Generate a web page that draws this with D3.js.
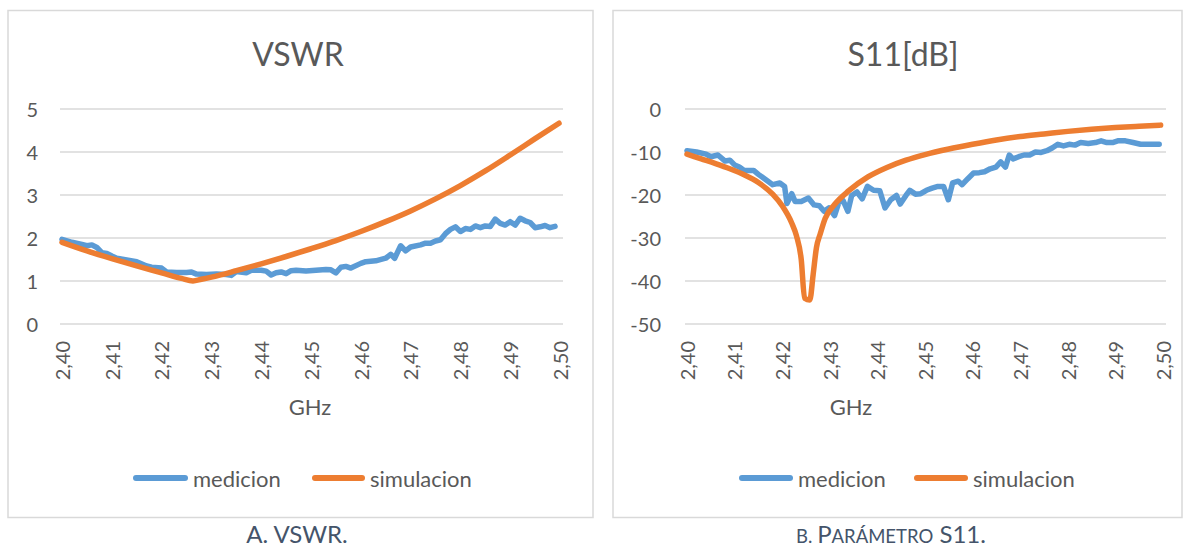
<!DOCTYPE html>
<html>
<head>
<meta charset="utf-8">
<script src="https://cdn.jsdelivr.net/npm/d3@7/dist/d3.min.js"></script>
<style>
  html, body { margin: 0; padding: 0; background: #ffffff; }
  svg { display: block; }
  text { font-family: Lato, "Open Sans", "Liberation Sans", sans-serif; }
</style>
</head>
<body>
<svg id="chart" width="1190" height="551"></svg>
<script>
// ---- data -------------------------------------------------------------
const freqTicks = [2.40, 2.41, 2.42, 2.43, 2.44, 2.45, 2.46, 2.47, 2.48, 2.49, 2.50];
const vswrTicks = [0, 1, 2, 3, 4, 5];
const s11Ticks = [0, -10, -20, -30, -40, -50];
const seriesNames = ["medicion", "simulacion"];

// VSWR, measured
const vswrMeasFreq = [2.400, 2.402, 2.404, 2.405, 2.406, 2.407, 2.408, 2.409, 2.410, 2.411, 2.413, 2.415,
  2.417, 2.418, 2.420, 2.421, 2.423, 2.425, 2.426, 2.427, 2.429, 2.431, 2.433, 2.434, 2.435, 2.437,
  2.438, 2.440, 2.441, 2.442, 2.443, 2.444, 2.445, 2.446, 2.447, 2.449, 2.451, 2.453, 2.454, 2.455,
  2.456, 2.457, 2.458, 2.460, 2.461, 2.463, 2.465, 2.466, 2.4668, 2.468, 2.469, 2.470, 2.472, 2.473,
  2.474, 2.475, 2.476, 2.477, 2.478, 2.479, 2.480, 2.481, 2.482, 2.483, 2.484, 2.485, 2.486, 2.487,
  2.488, 2.489, 2.490, 2.491, 2.492, 2.493, 2.494, 2.495, 2.496, 2.497, 2.498, 2.499];
const vswrMeas = [1.97, 1.90, 1.85, 1.82, 1.84, 1.78, 1.66, 1.64, 1.58, 1.53, 1.49, 1.45,
  1.35, 1.32, 1.30, 1.21, 1.20, 1.20, 1.21, 1.16, 1.15, 1.16, 1.15, 1.13, 1.22, 1.19,
  1.25, 1.25, 1.23, 1.14, 1.19, 1.21, 1.17, 1.24, 1.25, 1.23, 1.25, 1.27, 1.26, 1.19,
  1.32, 1.34, 1.30, 1.41, 1.45, 1.47, 1.53, 1.62, 1.53, 1.82, 1.70, 1.79, 1.84, 1.88,
  1.88, 1.93, 1.96, 2.10, 2.20, 2.26, 2.15, 2.22, 2.20, 2.28, 2.24, 2.28, 2.27, 2.44,
  2.34, 2.30, 2.38, 2.30, 2.46, 2.40, 2.36, 2.24, 2.26, 2.29, 2.24, 2.27];

// VSWR, simulated
const vswrSimFreq = [2.400, 2.405, 2.410, 2.415, 2.420, 2.424, 2.4263, 2.428, 2.430, 2.435, 2.440,
  2.445, 2.450, 2.455, 2.460, 2.465, 2.470, 2.475, 2.480, 2.485, 2.490, 2.495, 2.4998];
const vswrSim = [1.90, 1.70, 1.52, 1.35, 1.19, 1.06, 1.00, 1.04, 1.09, 1.24, 1.40,
  1.57, 1.75, 1.94, 2.15, 2.38, 2.63, 2.91, 3.22, 3.56, 3.93, 4.31, 4.67];

// S11 [dB], measured
const s11MeasFreq = [2.400, 2.402, 2.404, 2.405, 2.4065, 2.408, 2.409, 2.410, 2.411, 2.412, 2.414, 2.415,
  2.4165, 2.418, 2.4195, 2.4205, 2.421, 2.422, 2.4227, 2.424, 2.4255, 2.4267, 2.4278, 2.4288, 2.4298,
  2.4310, 2.4319, 2.4328, 2.4338, 2.4346, 2.4357, 2.4368, 2.4379, 2.4392, 2.4405, 2.4416, 2.4428,
  2.4440, 2.4448, 2.4460, 2.4468, 2.4480, 2.4491, 2.4503, 2.4515, 2.4527, 2.4539, 2.4549, 2.4558,
  2.4570, 2.4578, 2.4590, 2.4602, 2.4614, 2.4625, 2.4637, 2.4649, 2.4659, 2.4669, 2.4677, 2.4685,
  2.4697, 2.4708, 2.4720, 2.4732, 2.4744, 2.4756, 2.4768, 2.4779, 2.4791, 2.4803, 2.4815, 2.4827,
  2.4843, 2.4858, 2.4870, 2.4882, 2.4894, 2.4905, 2.4921, 2.4937, 2.4953, 2.4968, 2.4992];
const s11Meas = [-9.7, -10.0, -10.5, -11.1, -10.7, -12.1, -11.9, -13.0, -13.5, -14.3, -14.3, -15.2,
  -16.4, -17.6, -17.2, -18.0, -22.0, -19.7, -21.5, -21.5, -20.7, -22.3, -22.5, -23.8, -23.0,
  -24.8, -21.7, -21.3, -23.8, -20.1, -19.3, -20.9, -18.0, -18.9, -19.0, -23.0, -21.1,
  -20.1, -22.1, -20.1, -18.9, -19.8, -19.7, -18.9, -18.4, -18.0, -18.0, -21.1, -17.2,
  -16.8, -17.6, -16.2, -14.9, -14.8, -14.6, -13.9, -13.5, -12.3, -13.5, -10.7, -11.6,
  -11.1, -10.7, -10.7, -10.0, -10.1, -9.7, -9.0, -8.2, -8.6, -8.2, -8.4, -7.8,
  -8.0, -7.8, -7.4, -7.8, -7.8, -7.4, -7.4, -7.8, -8.2, -8.2, -8.2];

// S11 [dB], simulated
const s11SimFreq = [2.400, 2.403, 2.406, 2.409, 2.412, 2.415, 2.418, 2.420, 2.422, 2.423, 2.424,
  2.4247, 2.4258, 2.4265, 2.4272, 2.428, 2.429, 2.431, 2.434, 2.438, 2.442, 2.446, 2.450,
  2.455, 2.460, 2.465, 2.470, 2.475, 2.480, 2.485, 2.490, 2.495, 2.4995];
const s11Sim = [-10.5, -11.6, -12.7, -13.9, -15.3, -17.1, -19.8, -22.5, -26.5, -29.5, -35.0,
  -44.0, -44.4, -38.5, -32.2, -29.0, -25.5, -22.2, -19.0, -15.8, -13.6, -11.9, -10.6,
  -9.3, -8.2, -7.2, -6.4, -5.8, -5.2, -4.7, -4.3, -4.0, -3.75];

// ---- drawing ----------------------------------------------------------
const svg = d3.select("#chart");
const TEXT = "#595959";
const GRID = "#d9d9d9";
const BLUE = "#5b9bd5";
const ORANGE = "#ed7d31";
const fmtFreq = d => d3.format(".2f")(d).replace(".", ",");

function zip(xs, ys) { return xs.map((x, i) => ({ x, y: ys[i] })); }

function drawPanel(p) {
  const g = svg.append("g");

  // outer frame
  g.append("rect")
    .attr("x", p.frame[0]).attr("y", p.frame[1])
    .attr("width", p.frame[2] - p.frame[0]).attr("height", p.frame[3] - p.frame[1])
    .attr("fill", "#ffffff").attr("stroke", GRID).attr("stroke-width", 1.5);

  const x = d3.scaleLinear().domain([2.40, 2.50]).range(p.xRange);
  const y = d3.scaleLinear().domain(p.yDomain).range([324, 109]);

  // horizontal gridlines
  g.append("g").selectAll("line").data(p.yTicks).join("line")
    .attr("x1", p.gridX[0]).attr("x2", p.gridX[1])
    .attr("y1", d => y(d)).attr("y2", d => y(d))
    .attr("stroke", GRID).attr("stroke-width", 1.4);

  // y axis labels
  const yAxis = d3.axisLeft(y).tickValues(p.yTicks).tickSize(0).tickPadding(0)
    .tickFormat(d => String(d));
  const ya = g.append("g").attr("transform", `translate(${p.yLabelX},0)`).call(yAxis);
  ya.select(".domain").remove();
  ya.selectAll("text").attr("fill", TEXT).attr("font-size", 20)
    .attr("font-family", "Lato, 'Open Sans', sans-serif").attr("dy", "0.36em").attr("x", 0);

  // x axis labels, rotated
  const xAxis = d3.axisBottom(x).tickValues(freqTicks).tickSize(0).tickFormat(fmtFreq);
  const xa = g.append("g").attr("transform", "translate(0,341)").call(xAxis);
  xa.select(".domain").remove();
  xa.selectAll("text")
    .attr("fill", TEXT).attr("font-size", 20)
    .attr("font-family", "Lato, 'Open Sans', sans-serif")
    .attr("transform", "rotate(-90)")
    .attr("text-anchor", "end")
    .attr("x", 0).attr("y", 0).attr("dy", "0.36em");

  // axis title
  g.append("text").attr("x", p.ghzX).attr("y", 415).attr("text-anchor", "middle")
    .attr("font-size", 22).attr("fill", TEXT).text("GHz");

  // chart title
  g.append("text").attr("x", p.titleX).attr("y", 66).attr("text-anchor", "middle")
    .attr("font-size", 32).attr("fill", TEXT).text(p.title);

  // series
  const measLine = d3.line().x(d => x(d.x)).y(d => y(d.y)).curve(d3.curveLinear);
  const simLine = d3.line().x(d => x(d.x)).y(d => y(d.y)).curve(d3.curveMonotoneX);
  g.append("path").datum(zip(p.measFreq, p.meas)).attr("d", measLine)
    .attr("fill", "none").attr("stroke", BLUE).attr("stroke-width", 5.5)
    .attr("stroke-linejoin", "round").attr("stroke-linecap", "round");
  g.append("path").datum(zip(p.simFreq, p.sim)).attr("d", simLine)
    .attr("fill", "none").attr("stroke", ORANGE).attr("stroke-width", 5.5)
    .attr("stroke-linejoin", "round").attr("stroke-linecap", "round");

  // legend
  const leg = g.append("g");
  [BLUE, ORANGE].forEach((c, i) => {
    const L = p.legend[i];
    leg.append("line").attr("x1", L[0]).attr("x2", L[1]).attr("y1", 478).attr("y2", 478)
      .attr("stroke", c).attr("stroke-width", 6).attr("stroke-linecap", "round");
    leg.append("text").attr("x", L[2]).attr("y", 486.5).attr("font-size", 22)
      .attr("fill", TEXT).text(seriesNames[i]);
  });
}

drawPanel({
  frame: [8, 10.5, 593, 517.5],
  xRange: [62, 560],
  gridX: [60, 563],
  yDomain: [0, 5],
  yTicks: vswrTicks,
  yLabelX: 38,
  ghzX: 310,
  titleX: 298,
  title: "VSWR",
  measFreq: vswrMeasFreq, meas: vswrMeas,
  simFreq: vswrSimFreq, sim: vswrSim,
  legend: [[136, 185, 193], [315, 362, 370]]
});

drawPanel({
  frame: [613, 10.5, 1182, 517.5],
  xRange: [687, 1163],
  gridX: [685, 1166],
  yDomain: [-50, 0],
  yTicks: s11Ticks,
  yLabelX: 661,
  ghzX: 851,
  titleX: 903,
  title: "S11[dB]",
  measFreq: s11MeasFreq, meas: s11Meas,
  simFreq: s11SimFreq, sim: s11Sim,
  legend: [[742, 790, 798], [917, 965, 973]]
});

// captions below each panel (small capitals drawn with a reduced size)
const CAP = "#44546a";
svg.append("text").attr("x", 297).attr("y", 543).attr("text-anchor", "middle")
  .attr("font-size", 24).attr("fill", CAP).text("A. VSWR.");

const capB = svg.append("text").attr("x", 891).attr("y", 543).attr("text-anchor", "middle")
  .attr("fill", CAP).attr("font-size", 24);
[["B. ", 18.5], ["P", 24], ["ARÁMETRO", 18.5], [" S11.", 24]].forEach(([t, s]) => {
  capB.append("tspan").attr("font-size", s).text(t);
});
</script>
</body>
</html>
